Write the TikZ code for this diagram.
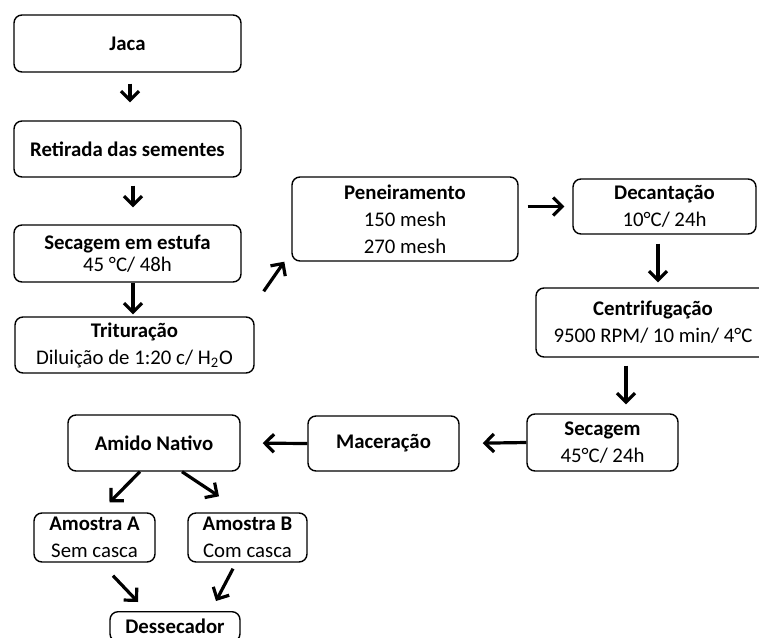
\documentclass[tikz,border=0pt]{standalone}
\usepackage{fontspec}
\setmainfont{Carlito}
\usetikzlibrary{arrows.meta}

\begin{document}
\begin{tikzpicture}[x=0.5pt,y=-0.5pt,
    box/.style={draw, line width=0.7pt, rounded corners=4pt, align=center,
        inner sep=0pt, font=\fontsize{10.4}{13.5}\selectfont},
    seta/.style={line width=1.6pt, -{Straight Barb[length=4.5pt,width=9pt]}}]
    \useasboundingbox (0,0) rectangle (759,637);
    \clip (0,0) rectangle (759,637);

    \node[box, minimum width=113.5pt, minimum height=28.5pt] (jaca) at (127.5,	43.5) {\textbf{Jaca}};
    \node[box, minimum width=113.5pt, minimum height=28pt] (ret) at (127.5,	149) {\textbf{Retirada das sementes}};
    \node[box, minimum width=113.5pt, minimum height=28.5pt, font=\fontsize{10.4}{11}\selectfont] (estufa) at (127.5,	253.5) {\textbf{Secagem em estufa}\\45 °C/ 48h};
    \node[box, minimum width=119.5pt, minimum height=28pt] (trit) at (134.5,	345) {\textbf{Trituração}\\Diluição de 1:20 c/ H\textsubscript{2}O};

    \node[box, minimum width=113pt, minimum height=42pt] (pen) at (405,	219) {\textbf{Peneiramento}\\150 mesh\\270 mesh};
    \node[box, minimum width=91.5pt, minimum height=27.5pt] (dec) at (664.5,	206.5) {\textbf{Decantação}\\10°C/ 24h};
    \node[box, minimum width=117pt, minimum height=34.5pt] (cent) at (653,	322.5) {\textbf{Centrifugação}\\9500 RPM/ 10 min/ 4°C};
    \node[box, minimum width=75.5pt, minimum height=28.5pt] (sec) at (602.5,	442.5) {\textbf{Secagem}\\45°C/ 24h};
    \node[box, minimum width=75.5pt, minimum height=27.5pt] (mac) at (383.5,	443.5) {\textbf{Maceração}};
    \node[box, minimum width=86pt, minimum height=28pt] (amido) at (154,	443) {\textbf{Amido Nativo}};

    \node[box, minimum width=60.5pt, minimum height=24.5pt] (amA) at (94.5,	537.5) {\textbf{Amostra A}\\Sem casca};
    \node[box, minimum width=59.5pt, minimum height=24.5pt] (amB) at (247.5,	537.5) {\textbf{Amostra B}\\Com casca};
    \node[box, minimum width=65pt, minimum height=15pt, anchor=north] (dess) at (175,	611) {\textbf{Dessecador}};

    \path[seta]
    ([xshift=1.25pt]jaca.south) edge[shorten <=5.5pt, shorten >=9pt] ([xshift=1.25pt]ret.north)
    ([xshift=2.75pt]ret.south) edge[shorten <=4pt, shorten >=8.5pt] ([xshift=2.75pt]estufa.north)
    ([xshift=2.75pt]estufa.south) edge[shorten >=1pt] ([xshift=-0.75pt]trit.north)
    ([xshift=4.5pt,yshift=12.5pt]trit.north east) edge ([xshift=-3.5pt]pen.south west)
    (pen.east |- dec.west) edge[shorten <=4.5pt, shorten >=4pt] (dec.west)
    ([xshift=-3.25pt]dec.south) edge[shorten <=4.5pt, shorten >=2.5pt] ([xshift=-3.25pt]dec.south |- cent.north)
    ([xshift=11.75pt]sec.north |- cent.south) edge[shorten <=4pt, shorten >=4.5pt] ([xshift=11.75pt]sec.north)
    (sec.west) edge[shorten >=11.5pt] (mac.east)
    (mac.west) edge[shorten >=11pt] (amido.east)
    ([xshift=-7pt]amido.south) edge ([xshift=7.5pt,yshift=5pt]amA.north)
    ([xshift=14pt]amido.south) edge ([xshift=-14.25pt,yshift=8pt]amB.north)
    ([xshift=9.25pt,yshift=-6.5pt]amA.south) edge ([xshift=-18.5pt,yshift=4.5pt]dess.north)
    ([xshift=-7.25pt,yshift=-3pt]amB.south) edge ([xshift=20.5pt,yshift=5pt]dess.north);
    \end{tikzpicture}
\end{document}
